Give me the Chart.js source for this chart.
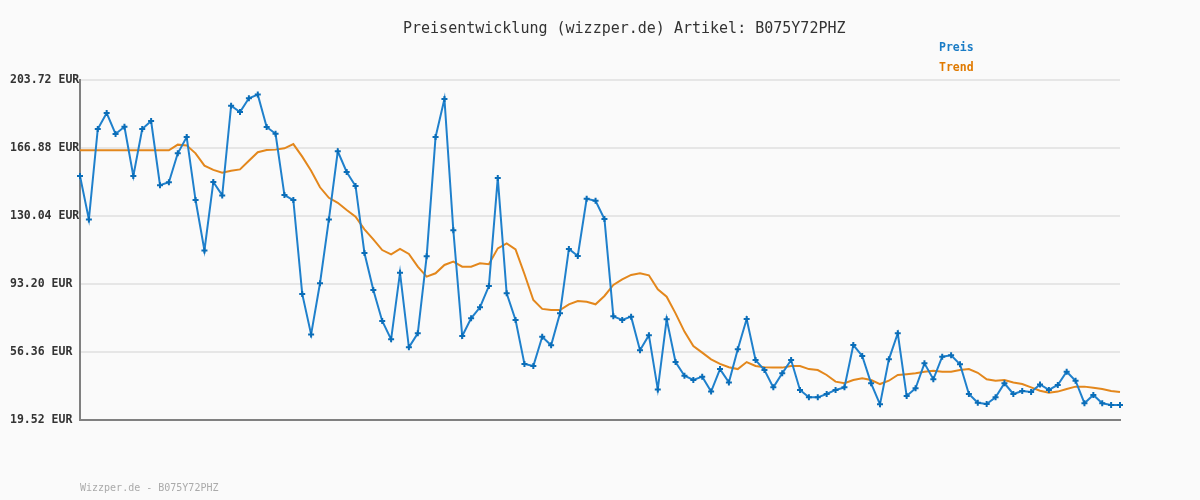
<!DOCTYPE html>
<html>
<head>
<meta charset="utf-8">
<script src="https://cdn.jsdelivr.net/npm/chart.js@4/dist/chart.umd.min.js"></script>
<style>
  html, body { margin: 0; padding: 0; background: #fafafa; }
  #wrap { width: 1200px; height: 500px; }
</style>
</head>
<body>
<div id="wrap"><canvas id="c" width="1200" height="500"></canvas></div>
<script>
const titleText = 'Preisentwicklung (wizzper.de) Artikel: B075Y72PHZ';
const footerText = 'Wizzper.de - B075Y72PHZ';
const seriesNames = ['Preis', 'Trend'];
const yTicks = [19.52, 56.36, 93.20, 130.04, 166.88, 203.72];

const preis = [
  151.7, 128.2, 177.2, 185.8, 174.5, 178.4, 151.7, 177.2, 181.5, 146.7,
  148.3, 164.0, 172.8, 138.7, 111.4, 148.5, 141.2, 189.8, 186.4, 193.8,
  195.8, 178.3, 174.6, 141.4, 138.7, 87.8, 65.9, 93.6, 128.2, 165.1,
  153.9, 146.3, 110.0, 89.9, 73.2, 63.2, 99.3, 58.9, 66.5, 108.2,
  172.8, 193.4, 122.3, 65.0, 74.6, 80.6, 92.1, 150.6, 88.2, 73.7,
  49.9, 48.8, 64.6, 60.0, 77.3, 112.2, 108.4, 139.4, 138.3, 128.4,
  75.7, 73.7, 75.5, 57.3, 65.5, 36.1, 74.1, 50.9, 43.5, 41.2,
  43.0, 34.9, 47.1, 39.9, 57.8, 74.2, 52.0, 46.6, 37.2, 44.8,
  52.0, 35.8, 31.8, 31.8, 33.6, 35.8, 37.2, 60.1, 54.2, 39.4,
  28.0, 52.4, 66.5, 32.5, 36.7, 50.2, 41.6, 53.8, 54.6, 49.7,
  33.6, 28.9, 28.2, 31.8, 39.4, 33.6, 35.2, 34.7, 38.8, 35.8,
  38.5, 45.7, 40.8, 28.6, 33.1, 28.6, 27.7, 27.7
];

const trend = [
  165.6, 165.6, 165.6, 165.6, 165.6, 165.6, 165.6, 165.6, 165.6, 165.6,
  165.6, 168.7, 168.3, 164.0, 157.3, 155.0, 153.5, 154.6, 155.3, 160.0,
  164.6, 165.8, 166.0, 166.7, 169.0, 162.2, 154.6, 145.6, 139.9, 137.2,
  133.3, 129.7, 122.8, 117.4, 111.6, 109.3, 112.2, 109.5, 102.6, 97.2,
  99.0, 103.5, 105.3, 102.6, 102.6, 104.4, 103.9, 112.5, 115.2, 112.0,
  98.6, 84.5, 79.7, 79.1, 79.1, 82.2, 84.0, 83.6, 82.2, 86.7,
  92.7, 95.7, 98.1, 99.0, 97.9, 90.3, 86.3, 77.3, 67.4, 59.6,
  56.0, 52.4, 49.9, 48.1, 47.1, 50.9, 48.8, 48.1, 47.9, 47.9,
  48.8, 48.8, 47.1, 46.6, 43.9, 40.3, 39.4, 41.2, 42.1, 41.2,
  39.0, 40.8, 43.9, 44.3, 44.8, 45.7, 46.2, 45.7, 45.7, 46.6,
  47.1, 45.1, 41.6, 40.8, 41.2, 39.8, 39.0, 37.2, 35.4, 34.3,
  34.9, 36.3, 37.6, 37.6, 37.0, 36.3, 35.2, 34.7
];

const categories = preis.map((_, i) => String(i + 1));

const MONO = '"DejaVu Sans Mono", "Liberation Mono", monospace';

const bgPlugin = {
  id: 'bg',
  beforeDraw(chart) {
    const ctx = chart.ctx;
    ctx.save();
    ctx.fillStyle = '#fafafa';
    ctx.fillRect(0, 0, chart.width, chart.height);
    ctx.restore();
  }
};

const textPlugin = {
  id: 'texts',
  afterDraw(chart) {
    const ctx = chart.ctx;
    ctx.save();
    ctx.textBaseline = 'alphabetic';
    ctx.textAlign = 'left';
    ctx.fillStyle = '#333333';
    ctx.font = '15px ' + MONO;
    ctx.fillText(titleText, 403, 33);
    ctx.font = 'bold 11.5px ' + MONO;
    ctx.fillStyle = '#1a7cc6';
    ctx.fillText(seriesNames[0], 939, 51);
    ctx.fillStyle = '#e07a00';
    ctx.fillText(seriesNames[1], 939, 71);
    ctx.font = '10px ' + MONO;
    ctx.fillStyle = '#aaaaaa';
    ctx.fillText(footerText, 80, 491);
    ctx.restore();
  }
};

new Chart(document.getElementById('c'), {
  type: 'line',
  data: {
    labels: categories,
    datasets: [
      {
        label: seriesNames[0],
        data: preis,
        borderColor: '#1f80cc',
        borderWidth: 2,
        pointStyle: 'cross',
        pointRadius: 3,
        pointBorderWidth: 2,
        pointBorderColor: '#0a6db8',
        pointBackgroundColor: '#0a6db8',
        tension: 0,
        fill: false
      },
      {
        label: seriesNames[1],
        data: trend,
        borderColor: '#e3871c',
        borderWidth: 2,
        pointRadius: 0,
        tension: 0,
        fill: false
      }
    ]
  },
  options: {
    responsive: false,
    animation: false,
    events: [],
    layout: { padding: { left: 10, top: 80, right: 80, bottom: 0 } },
    plugins: {
      legend: { display: false },
      title: { display: false },
      tooltip: { enabled: false }
    },
    scales: {
      x: {
        type: 'category',
        offset: false,
        ticks: { display: false },
        grid: { display: false, drawTicks: false },
        border: { display: true, color: '#808080', width: 2 },
        afterFit(s) { s.height = 80; }
      },
      y: {
        min: yTicks[0],
        max: yTicks[yTicks.length - 1],
        afterBuildTicks(s) { s.ticks = yTicks.map(v => ({ value: v })); },
        afterFit(s) { s.width = 70; },
        ticks: {
          crossAlign: 'far',
          padding: 0,
          color: '#333333',
          font: { family: MONO, size: 11.5, weight: 'bold' },
          callback: v => Number(v).toFixed(2) + ' EUR'
        },
        grid: { color: '#e6e6e6', lineWidth: 2, drawTicks: false },
        border: { display: true, color: '#808080', width: 2 }
      }
    }
  },
  plugins: [bgPlugin, textPlugin]
});
</script>
</body>
</html>
